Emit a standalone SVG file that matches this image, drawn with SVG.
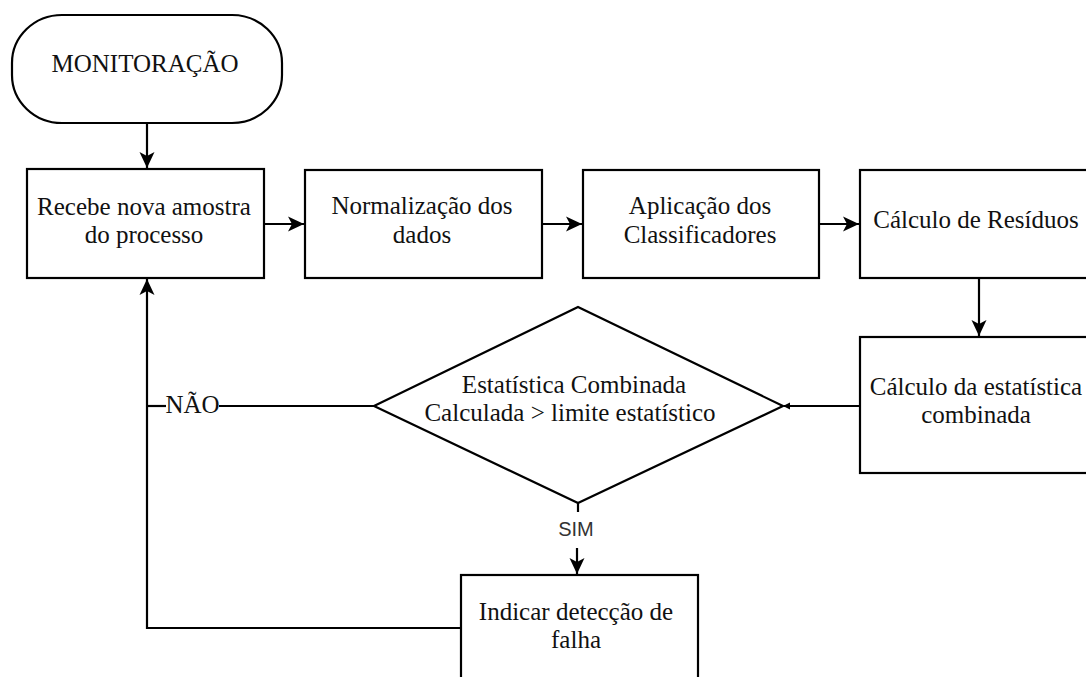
<svg xmlns="http://www.w3.org/2000/svg" width="1086" height="677" viewBox="0 0 1086 677">
<style>
.box{fill:#fff;stroke:#000;stroke-width:2.2}
.t{font-family:"Liberation Serif","Times New Roman",serif;font-size:25px;fill:#111;text-anchor:middle}
.s{font-family:"Liberation Sans",Arial,sans-serif;font-size:20px;fill:#333;text-anchor:middle}
.ln{fill:none;stroke:#000;stroke-width:2.2}
</style>
<defs>
<marker id="arr" markerUnits="userSpaceOnUse" markerWidth="18" markerHeight="18" refX="16" refY="8" orient="auto">
<path d="M0,0.5 L16,8 L0,15.5 L4,8 Z" fill="#000"/>
</marker>
<marker id="arrs" markerUnits="userSpaceOnUse" markerWidth="10" markerHeight="10" refX="6" refY="5" orient="auto">
<path d="M0,1.5 L7,5 L0,8.5 Z" fill="#000"/>
</marker>
</defs>
<rect width="1086" height="677" fill="#fff"/>
<g id="connectors">
<path class="ln" d="M147,123 V168" marker-end="url(#arr)"/>
<path class="ln" d="M264,224 H304" marker-end="url(#arr)"/>
<path class="ln" d="M542,224 H582" marker-end="url(#arr)"/>
<path class="ln" d="M819,224 H859" marker-end="url(#arr)"/>
<path class="ln" d="M979,278 V336" marker-end="url(#arr)"/>
<path class="ln" d="M860,406 H784" marker-end="url(#arrs)"/>
<path class="ln" d="M374,406 H219"/>
<path class="ln" d="M166,406 H147"/>
<path class="ln" d="M461,628 H147 V279" marker-end="url(#arr)"/>
<path class="ln" d="M578,503 V512"/>
<path class="ln" d="M577,548 V574" marker-end="url(#arr)"/>
<text class="t" x="192.5" y="413">NÃO</text>
<text class="s" x="576" y="536">SIM</text>
</g>
<g id="n_monitoracao">
<rect class="box" x="12" y="15" width="270" height="108" rx="50" ry="48"/>
<text class="t" x="145" y="72">MONITORAÇÃO</text>
</g>
<g id="n_recebe">
<rect class="box" x="27" y="169" width="237" height="109"/>
<text class="t" x="144" y="215">Recebe nova amostra</text>
<text class="t" x="144" y="243">do processo</text>
</g>
<g id="n_normalizacao">
<rect class="box" x="305" y="170" width="237" height="108"/>
<text class="t" x="422" y="214">Normalização dos</text>
<text class="t" x="422" y="243">dados</text>
</g>
<g id="n_aplicacao">
<rect class="box" x="583" y="170" width="236" height="108"/>
<text class="t" x="700" y="214">Aplicação dos</text>
<text class="t" x="700" y="243">Classificadores</text>
</g>
<g id="n_residuos">
<rect class="box" x="860" y="170" width="237" height="108"/>
<text class="t" x="976" y="228">Cálculo de Resíduos</text>
</g>
<g id="n_estatistica">
<rect class="box" x="860" y="337" width="237" height="136"/>
<text class="t" x="976" y="395">Cálculo da estatística</text>
<text class="t" x="976" y="423">combinada</text>
</g>
<g id="n_decisao">
<polygon class="box" points="374,406 578,307 783,406 578,503"/>
<text class="t" x="574" y="393">Estatística Combinada</text>
<text class="t" x="570" y="421">Calculada &gt; limite estatístico</text>
</g>
<g id="n_indicar">
<rect class="box" x="461" y="575" width="237" height="120"/>
<text class="t" x="576" y="620">Indicar detecção de</text>
<text class="t" x="576" y="648">falha</text>
</g>
</svg>
